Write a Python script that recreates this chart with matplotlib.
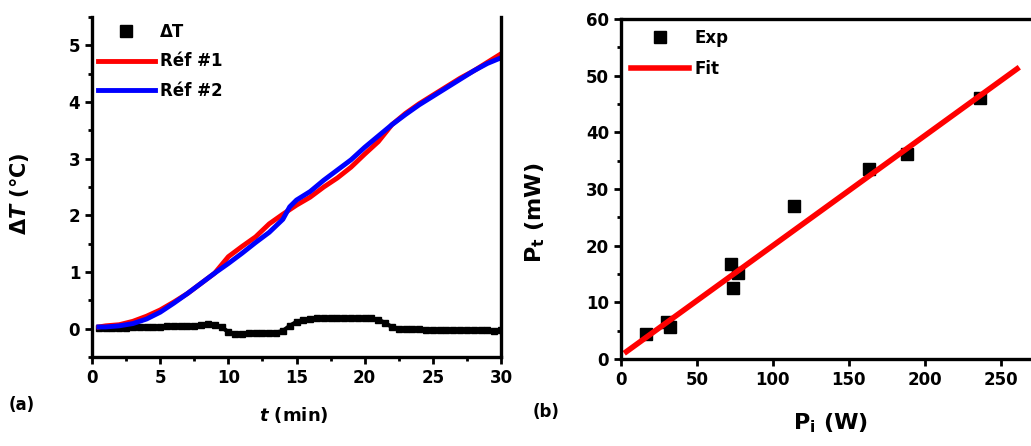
import matplotlib
matplotlib.use("Agg")
import matplotlib.pyplot as plt
from matplotlib.ticker import MultipleLocator

plt.rcParams['font.family'] = ['DejaVu Sans']
plt.rcParams['font.weight'] = 'bold'

# ---- Panel (a) data ----
t_ref = [0.5, 1, 2, 3, 4, 5, 6, 7, 8, 9, 10, 11, 12, 13, 14, 14.5, 15, 16, 17, 18, 19, 20,
         21, 22, 23, 24, 25, 26, 27, 28, 29, 30]
ref1 = [0.03, 0.05, 0.07, 0.13, 0.22, 0.33, 0.47, 0.62, 0.80, 0.98, 1.27, 1.45, 1.62, 1.85,
        2.02, 2.10, 2.18, 2.32, 2.50, 2.66, 2.85, 3.08, 3.30, 3.60, 3.80, 3.97, 4.12, 4.27,
        4.42, 4.55, 4.70, 4.85]
ref2 = [0.03, 0.03, 0.05, 0.09, 0.17, 0.29, 0.45, 0.62, 0.80, 0.98, 1.15, 1.33, 1.52, 1.70,
        1.93, 2.15, 2.27, 2.42, 2.62, 2.80, 2.98, 3.20, 3.40, 3.60, 3.78, 3.95, 4.10, 4.25,
        4.40, 4.55, 4.68, 4.78]

t_dt = [0.5, 1, 1.5, 2, 2.5, 3, 3.5, 4, 4.5, 5, 5.5, 6, 6.5, 7, 7.5, 8, 8.5, 9, 9.5, 10,
        10.5, 11, 11.5, 12, 12.5, 13, 13.5, 14, 14.5, 15, 15.5, 16, 16.5, 17, 17.5, 18, 18.5,
        19, 19.5, 20, 20.5, 21, 21.5, 22, 22.5, 23, 23.5, 24, 24.5, 25, 25.5, 26, 26.5, 27,
        27.5, 28, 28.5, 29, 29.5, 30]
dT = [0.01, 0.01, 0.02, 0.02, 0.02, 0.03, 0.03, 0.03, 0.03, 0.03, 0.04, 0.05, 0.05, 0.05,
      0.05, 0.06, 0.08, 0.07, 0.03, -0.06, -0.09, -0.09, -0.08, -0.07, -0.07, -0.07, -0.07,
      -0.04, 0.05, 0.12, 0.15, 0.17, 0.18, 0.18, 0.19, 0.19, 0.19, 0.19, 0.19, 0.19, 0.18,
      0.16, 0.10, 0.03, 0.00, -0.01, -0.01, -0.01, -0.02, -0.02, -0.02, -0.02, -0.02, -0.02,
      -0.02, -0.02, -0.02, -0.03, -0.04, -0.03]

# ---- Panel (b) data ----
p_in = [16.4, 30, 32, 72.4, 77.3, 74, 113.6, 163, 188.3, 236.6]
p_out = [4.4, 6.6, 5.7, 16.7, 15.2, 12.6, 27.0, 33.5, 36.2, 46.1]
fit_x = [3.6, 260.8]
fit_y = [1.3, 51.2]

fig = plt.figure(figsize=(10.31, 4.46), dpi=100)

FS = 12
LW = 2.4

# ---- Panel (a) ----
ax1 = fig.add_axes([92/1031, 1-357/446, (501-92)/1031, (357-17)/446])
ax1.plot(t_dt, dT, color='black', marker='s', markersize=4, linestyle='-', linewidth=3,
         label='ΔT')
ax1.plot(t_ref, ref1, color='#ff0000', linewidth=3.5, label='Réf #1')
ax1.plot(t_ref, ref2, color='#0000ff', linewidth=3.5, label='Réf #2')
ax1.set_xlim(0, 30)
ax1.set_ylim(-0.5, 5.5)
ax1.xaxis.set_major_locator(MultipleLocator(5))
ax1.xaxis.set_minor_locator(MultipleLocator(2.5))
ax1.yaxis.set_major_locator(MultipleLocator(1))
ax1.yaxis.set_minor_locator(MultipleLocator(0.5))
ax1.spines['top'].set_visible(False)
for s in ['left', 'right', 'bottom']:
    ax1.spines[s].set_linewidth(LW)
ax1.tick_params(which='both', direction='out', width=2, labelsize=FS, right=False, top=False)
ax1.tick_params(which='major', length=5)
ax1.tick_params(which='minor', length=3)
ax1.set_xlabel('$\\mathit{t}$ (min)', fontsize=FS + 1, fontweight='bold')
ax1.xaxis.set_label_coords(0.494, -0.14)
ax1.set_ylabel('$\\Delta T$ (°C)', fontsize=FS + 3, fontweight='bold')
ax1.yaxis.set_label_coords(-0.15, 0.48)
h, l = ax1.get_legend_handles_labels()
leg1 = ax1.legend(h, l, loc='upper left', frameon=False, fontsize=FS, handlelength=3.4,
                  borderaxespad=0.15, borderpad=0.2, labelspacing=0.7, handletextpad=0.3)
for lh in leg1.legend_handles[:1]:
    lh.set_linestyle('none')
    lh.set_markersize(9)

fig.text(22/1031, 1-405/446, '(a)', fontsize=FS, fontweight='bold', ha='center', va='center')

# ---- Panel (b) ----
ax2 = fig.add_axes([621/1031, 1-359/446, (1031-621)/1031, (359-19)/446])
ax2.plot(p_in, p_out, linestyle='none', marker='s', color='black', markersize=8, label='Exp')
ax2.plot(fit_x, fit_y, color='#ff0000', linewidth=4, label='Fit')
ax2.set_xlim(0, 270)
ax2.set_ylim(0, 60)
ax2.xaxis.set_major_locator(MultipleLocator(50))
ax2.yaxis.set_major_locator(MultipleLocator(10))
ax2.yaxis.set_minor_locator(MultipleLocator(5))
ax2.spines['right'].set_visible(False)
for s in ['left', 'top', 'bottom']:
    ax2.spines[s].set_linewidth(LW)
ax2.tick_params(which='both', direction='out', width=2, labelsize=FS, right=False, top=False)
ax2.tick_params(which='major', length=5)
ax2.tick_params(which='minor', length=3)
ax2.set_xlabel('$\\mathbf{P_i}$ (W)', fontsize=FS + 4, fontweight='bold')
ax2.xaxis.set_label_coords(0.51, -0.155)
ax2.set_ylabel('$\\mathbf{P_t}$ (mW)', fontsize=FS + 4, fontweight='bold')
ax2.yaxis.set_label_coords(-0.18, 0.43)
ax2.legend(loc='upper left', frameon=False, fontsize=FS, handlelength=3.5,
           borderaxespad=0.3, borderpad=0.3, labelspacing=0.75, handletextpad=0.3)

fig.text(546/1031, 1-412/446, '(b)', fontsize=FS, fontweight='bold', ha='center', va='center')

fig.savefig('out.png', dpi=100)
